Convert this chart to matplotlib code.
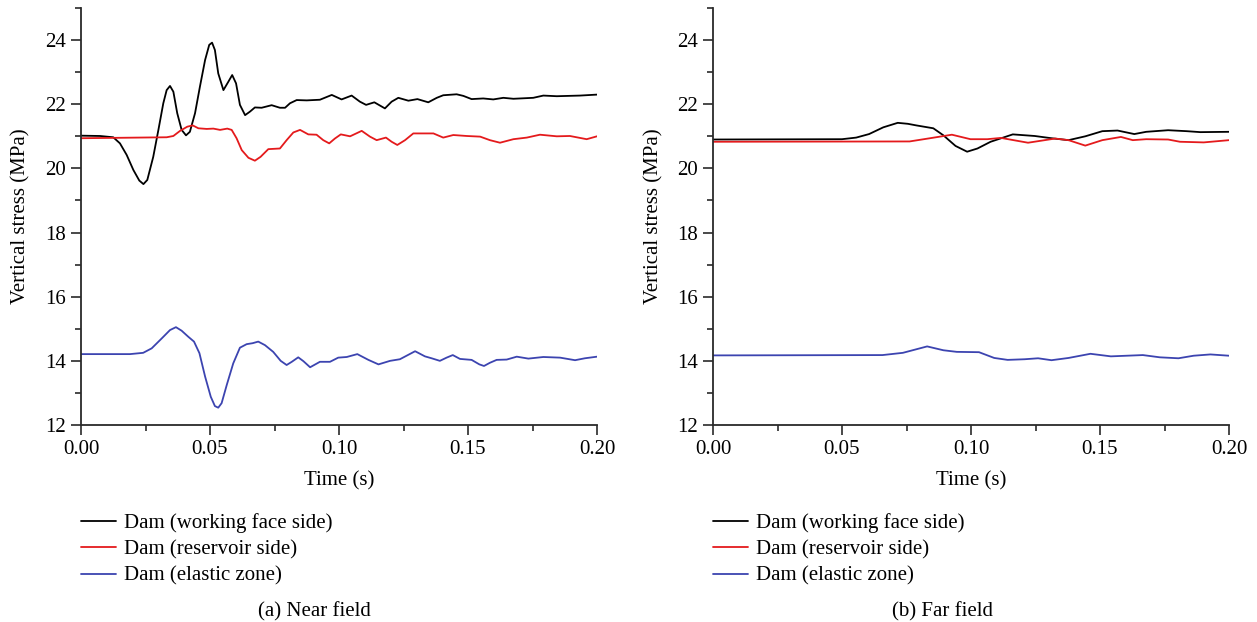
import matplotlib
matplotlib.use("Agg")
import matplotlib.pyplot as plt
from matplotlib.ticker import MultipleLocator, FormatStrFormatter

plt.rcParams['font.family'] = ['Liberation Serif', 'DejaVu Serif']

# ---------------- data ----------------
near_black_t = [0, 0.0074, 0.0125, 0.0151, 0.0177, 0.0203, 0.0226, 0.0242, 0.0257, 0.028, 0.030,
                0.0319, 0.0332, 0.0345, 0.0358, 0.0373, 0.039, 0.0407, 0.0422, 0.0442, 0.0461,
                0.0481, 0.0497, 0.0508, 0.0519, 0.0532, 0.0552, 0.0571, 0.0586, 0.0601, 0.0616,
                0.0636, 0.0655, 0.0674, 0.070, 0.0739, 0.0771, 0.0791, 0.081, 0.0836, 0.0875,
                0.0926, 0.0972, 0.101, 0.1049, 0.1081, 0.1105, 0.1137, 0.1178, 0.1204, 0.123,
                0.1269, 0.1304, 0.1346, 0.1379, 0.1404, 0.1456, 0.1482, 0.1514, 0.1559, 0.1598,
                0.1637, 0.1676, 0.1753, 0.1792, 0.1844, 0.1934, 0.2]
near_black_v = [21.02, 21.01, 20.97, 20.78, 20.42, 19.95, 19.62, 19.51, 19.64, 20.36, 21.2,
                22.03, 22.44, 22.57, 22.39, 21.72, 21.2, 21.03, 21.14, 21.72, 22.55,
                23.38, 23.85, 23.92, 23.69, 22.96, 22.44, 22.7, 22.91, 22.65, 21.98,
                21.66, 21.77, 21.9, 21.89, 21.97, 21.89, 21.89, 22.03, 22.13, 22.12,
                22.14, 22.29, 22.15, 22.27, 22.08, 21.98, 22.06, 21.87, 22.08, 22.2,
                22.11, 22.16, 22.06, 22.2, 22.28, 22.31, 22.26, 22.16, 22.18, 22.15,
                22.2, 22.17, 22.2, 22.27, 22.25, 22.27, 22.3]

near_red_t = [0, 0.0332, 0.0358, 0.0384, 0.0412, 0.0433, 0.0455, 0.0487, 0.0513, 0.0539, 0.0567,
              0.0584, 0.0603, 0.0623, 0.0649, 0.0674, 0.0696, 0.0726, 0.0771, 0.0797, 0.0823,
              0.0849, 0.0881, 0.0913, 0.0939, 0.0962, 0.0984, 0.1007, 0.1043, 0.1088, 0.112,
              0.1146, 0.1182, 0.1204, 0.1226, 0.1256, 0.1288, 0.1366, 0.1404, 0.1443, 0.1495,
              0.1547, 0.1585, 0.1624, 0.1676, 0.1728, 0.1779, 0.1844, 0.1895, 0.196, 0.2]
near_red_v = [20.94, 20.97, 21.01, 21.17, 21.3, 21.34, 21.25, 21.23, 21.24, 21.2, 21.24,
              21.2, 20.94, 20.57, 20.33, 20.24, 20.36, 20.6, 20.62, 20.88, 21.12,
              21.2, 21.06, 21.05, 20.88, 20.78, 20.93, 21.06, 21.0, 21.17, 20.99,
              20.88, 20.96, 20.83, 20.73, 20.88, 21.09, 21.09, 20.96, 21.04, 21.01,
              20.99, 20.88, 20.8, 20.91, 20.96, 21.05, 21.0, 21.01, 20.91, 21.0]

near_blue_t = [0, 0.019, 0.0241, 0.0274, 0.0313, 0.0345, 0.0368, 0.039, 0.0416, 0.0438, 0.0459,
               0.0481, 0.0503, 0.0519, 0.0532, 0.0545, 0.0565, 0.059, 0.0616, 0.0642, 0.0665,
               0.0687, 0.0713, 0.0745, 0.0774, 0.0797, 0.0817, 0.0842, 0.0862, 0.0888, 0.0926,
               0.0965, 0.0997, 0.103, 0.1071, 0.1114, 0.1153, 0.1198, 0.1236, 0.1262, 0.1295,
               0.1333, 0.1359, 0.1391, 0.1417, 0.1441, 0.1469, 0.1514, 0.1544, 0.1562, 0.1585,
               0.1611, 0.165, 0.1689, 0.1734, 0.1792, 0.1857, 0.1915, 0.1953, 0.2]
near_blue_v = [14.21, 14.21, 14.25, 14.39, 14.7, 14.96, 15.05, 14.94, 14.75, 14.6, 14.24,
               13.51, 12.88, 12.59, 12.54, 12.68, 13.25, 13.92, 14.41, 14.52, 14.55,
               14.6, 14.49, 14.28, 14.0, 13.87, 13.97, 14.11, 13.99, 13.8, 13.97,
               13.97, 14.1, 14.12, 14.21, 14.03, 13.89, 14.0, 14.05, 14.16, 14.3,
               14.14, 14.08, 14.0, 14.1, 14.18, 14.06, 14.03, 13.89, 13.84, 13.94,
               14.03, 14.04, 14.13, 14.07, 14.12, 14.1, 14.02, 14.08, 14.13]

far_black_t = [0, 0.05, 0.0555, 0.0605, 0.066, 0.0716, 0.0755, 0.0788, 0.0854, 0.0893, 0.094,
               0.0985, 0.1025, 0.1076, 0.1162, 0.1247, 0.1312, 0.1378, 0.1443, 0.1509, 0.1568,
               0.1633, 0.1679, 0.1764, 0.1836, 0.1889, 0.2]
far_black_v = [20.9, 20.91, 20.96, 21.07, 21.28, 21.42, 21.39, 21.34, 21.25, 21.03, 20.7,
               20.52, 20.62, 20.83, 21.06, 21.01, 20.94, 20.88, 21.0, 21.16, 21.18,
               21.07, 21.14, 21.19, 21.16, 21.13, 21.14]

far_red_t = [0, 0.0762, 0.0841, 0.0926, 0.0998, 0.1063, 0.1116, 0.1221, 0.1326, 0.1378, 0.1443,
             0.1509, 0.1581, 0.1627, 0.1679, 0.1764, 0.1810, 0.1902, 0.2]
far_red_v = [20.83, 20.84, 20.94, 21.05, 20.91, 20.91, 20.95, 20.8, 20.93, 20.88, 20.71,
             20.88, 20.98, 20.88, 20.91, 20.9, 20.83, 20.81, 20.88]

far_blue_t = [0, 0.0657, 0.0736, 0.0830, 0.0893, 0.0945, 0.1031, 0.1090, 0.1142, 0.1208, 0.1260,
              0.1312, 0.1378, 0.1463, 0.1542, 0.1666, 0.1732, 0.1804, 0.1863, 0.1928, 0.2]
far_blue_v = [14.17, 14.18, 14.25, 14.45, 14.33, 14.28, 14.27, 14.09, 14.03, 14.05, 14.08,
              14.02, 14.09, 14.22, 14.14, 14.18, 14.11, 14.08, 14.16, 14.2, 14.16]

labels = ["Dam (working face side)", "Dam (reservoir side)", "Dam (elastic zone)"]
captions = ["(a) Near field", "(b) Far field"]
x_ticks = [0.00, 0.05, 0.10, 0.15, 0.20]
y_ticks = [12, 14, 16, 18, 20, 22, 24]

colors = ["#000000", "#e41a1c", "#3c44b0"]

# ---------------- figure ----------------
W, H = 1257, 622
fig = plt.figure(figsize=(W / 100, H / 100), dpi=100)

panels = [
    ((near_black_t, near_black_v), (near_red_t, near_red_v), (near_blue_t, near_blue_v)),
    ((far_black_t, far_black_v), (far_red_t, far_red_v), (far_blue_t, far_blue_v)),
]
lefts = [81, 713]
ylab_x = [-0.098, -0.095]
fs = 15
axcol = "#2a2a2a"

for i, (series, lx) in enumerate(zip(panels, lefts)):
    ax = fig.add_axes([lx / W, (H - 425) / H, 516 / W, 417 / H])
    handles = []
    for (t, v), c, lab in zip(series, colors, labels):
        h, = ax.plot(t, v, color=c, lw=1.3, label=lab,
                     solid_joinstyle="round", solid_capstyle="round")
        handles.append(h)
    ax.set_xlim(0, 0.2)
    ax.set_ylim(12, 25)
    ax.set_xticks(x_ticks)
    ax.set_yticks(y_ticks)
    ax.xaxis.set_major_formatter(FormatStrFormatter('%.2f'))
    ax.xaxis.set_minor_locator(MultipleLocator(0.025))
    ax.yaxis.set_minor_locator(MultipleLocator(1))
    for s in ["top", "right"]:
        ax.spines[s].set_visible(False)
    for s in ["left", "bottom"]:
        ax.spines[s].set_color(axcol)
        ax.spines[s].set_linewidth(1.3)
    ax.tick_params(which="major", direction="out", length=7, width=1.2, color=axcol,
                   labelsize=fs, pad=4)
    ax.tick_params(which="minor", direction="out", length=4, width=1.2, color=axcol)
    ax.set_xlabel("Time (s)", fontsize=fs)
    ax.xaxis.set_label_coords(0.5, -0.11)
    ax.set_ylabel("Vertical stress (MPa)", fontsize=fs)
    ax.yaxis.set_label_coords(ylab_x[i], 0.5)
    ax.legend(handles=handles, loc="upper left",
              bbox_to_anchor=(lx / W, (H - 513) / H),
              bbox_transform=fig.transFigure, frameon=False, fontsize=fs,
              handlelength=1.7, handletextpad=0.35, labelspacing=0.33,
              borderaxespad=0, borderpad=0)
    fig.text((0.25 + 0.5 * i), (H - 612) / H, captions[i], ha="center", va="center",
             fontsize=fs)

fig.savefig("out.png", dpi=100)
